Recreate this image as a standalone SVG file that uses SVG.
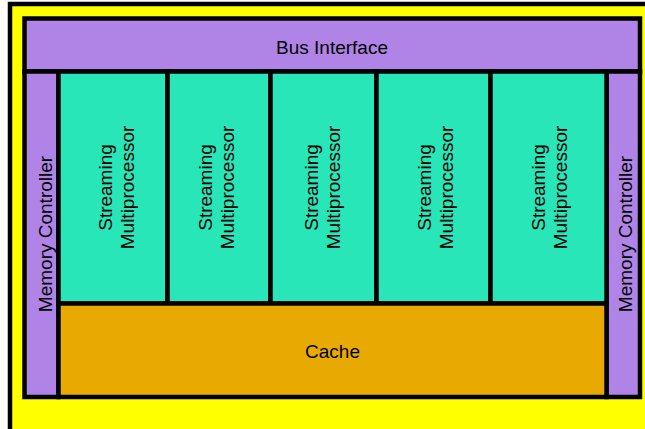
<svg xmlns="http://www.w3.org/2000/svg" width="645" height="429" viewBox="0 0 645 429">
<style>
.box{stroke:#000;stroke-width:4.5}
.purple{fill:#B084E6}
.sm{fill:#29E6B8}
.cache{fill:#E8AA00}
text{font-family:"Liberation Sans",Arial,sans-serif;font-size:19px;fill:#000}
.c{text-anchor:middle}
</style>
<rect width="645" height="429" fill="#fff"/>
<g id="chip"><rect class="box" x="10" y="4" width="700" height="500" fill="#FFFF00"/></g>
<g id="bus"><rect class="box purple" x="24.5" y="18.5" width="615.5" height="53"/><text class="c" x="332" y="54">Bus Interface</text></g>
<g id="mc-left"><rect class="box purple" x="24.5" y="71.5" width="34" height="325.5"/><text class="c" transform="translate(51.5,234) rotate(-90)">Memory Controller</text></g>
<g id="mc-right"><rect class="box purple" x="606.5" y="71.5" width="33.5" height="325.5"/><text class="c" transform="translate(632,234) rotate(-90)">Memory Controller</text></g>
<g id="sm1"><rect class="box sm" x="58.5" y="71.5" width="109" height="232"/><text class="c" transform="translate(134,187.5) rotate(-90)"><tspan x="0" y="-22">Streaming</tspan><tspan x="0" y="0">Multiprocessor</tspan></text></g>
<g id="sm2"><rect class="box sm" x="167.5" y="71.5" width="103" height="232"/><text class="c" transform="translate(234,187.5) rotate(-90)"><tspan x="0" y="-22">Streaming</tspan><tspan x="0" y="0">Multiprocessor</tspan></text></g>
<g id="sm3"><rect class="box sm" x="270.5" y="71.5" width="106" height="232"/><text class="c" transform="translate(340,187.5) rotate(-90)"><tspan x="0" y="-22">Streaming</tspan><tspan x="0" y="0">Multiprocessor</tspan></text></g>
<g id="sm4"><rect class="box sm" x="376.5" y="71.5" width="114" height="232"/><text class="c" transform="translate(453,187.5) rotate(-90)"><tspan x="0" y="-22">Streaming</tspan><tspan x="0" y="0">Multiprocessor</tspan></text></g>
<g id="sm5"><rect class="box sm" x="490.5" y="71.5" width="116" height="232"/><text class="c" transform="translate(567,187.5) rotate(-90)"><tspan x="0" y="-22">Streaming</tspan><tspan x="0" y="0">Multiprocessor</tspan></text></g>
<g id="cache"><rect class="box cache" x="58.5" y="303.5" width="548" height="93.5"/><text class="c" x="332.5" y="358">Cache</text></g>
<g id="connectors"></g>
</svg>
